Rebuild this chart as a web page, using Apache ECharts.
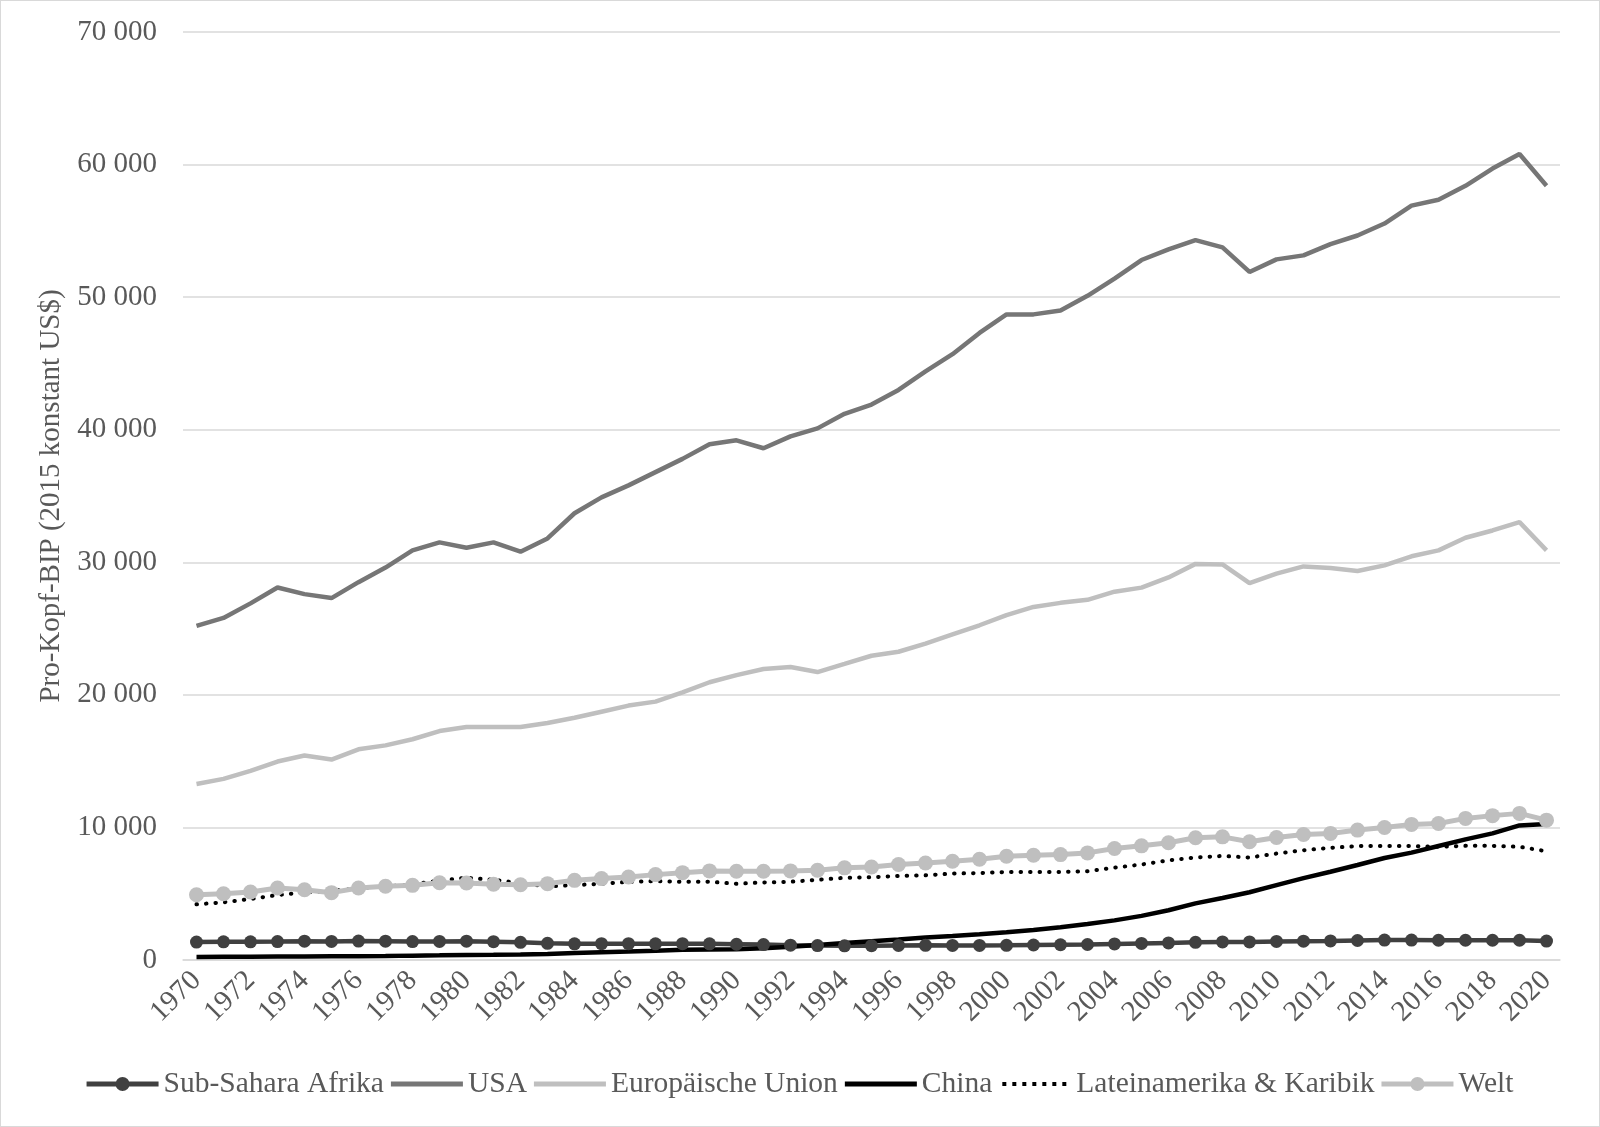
<!DOCTYPE html>
<html><head><meta charset="utf-8">
<script src="https://cdn.jsdelivr.net/npm/echarts@6/dist/echarts.min.js"></script>
<style>
html,body{margin:0;padding:0;background:#fff;}
#c{width:1598px;height:1125px;border:1px solid #d9d9d9;}
</style></head>
<body><div id="c"></div>
<script>
const years = [];
for (let y = 1970; y <= 2020; y++) years.push(String(y));

const ssa = [1350,1370,1370,1390,1420,1400,1430,1420,1390,1400,1420,1380,1330,1260,1220,1230,1230,1220,1230,1220,1190,1160,1120,1090,1070,1080,1100,1110,1100,1100,1110,1130,1150,1170,1210,1250,1290,1330,1360,1360,1400,1420,1440,1470,1500,1500,1490,1490,1490,1490,1430];
const usa = [25200,25800,26900,28100,27600,27300,28500,29600,30900,31500,31100,31500,30800,31800,33700,34900,35800,36800,37800,38900,39200,38600,39500,40100,41200,41900,43000,44400,45700,47300,48700,48700,49000,50100,51400,52800,53600,54300,53750,51900,52850,53150,54000,54650,55550,56900,57350,58400,59700,60800,58400];
const eu = [13280,13660,14270,14970,15430,15120,15890,16190,16650,17270,17570,17570,17570,17880,18270,18730,19190,19490,20180,20950,21490,21950,22100,21720,22330,22950,23250,23870,24560,25250,26020,26630,26940,27170,27780,28090,28860,29880,29840,28430,29140,29690,29570,29340,29770,30450,30900,31850,32400,33030,30900];
const china = [230,240,245,260,265,280,275,295,330,350,375,390,420,460,530,590,640,700,770,790,810,880,1000,1130,1280,1420,1550,1690,1810,1940,2100,2270,2470,2720,2990,3330,3750,4270,4680,5110,5650,6180,6660,7170,7690,8100,8600,9100,9550,10150,10250];
const latam = [4200,4350,4600,4900,5100,5200,5400,5550,5700,6000,6200,6050,5800,5550,5650,5750,5900,5950,5900,5900,5750,5850,5900,6050,6200,6240,6340,6390,6520,6560,6640,6640,6640,6690,6970,7200,7520,7730,7850,7730,8030,8280,8460,8590,8610,8590,8540,8610,8610,8540,8200];
const welt = [4920,5000,5130,5430,5300,5080,5430,5560,5630,5830,5810,5710,5680,5760,6010,6140,6260,6440,6590,6720,6690,6690,6720,6770,6950,7020,7200,7320,7450,7600,7830,7900,7950,8080,8410,8610,8840,9220,9290,8920,9240,9470,9550,9800,10000,10230,10300,10680,10890,11060,10550];

const yTicks = [0,10000,20000,30000,40000,50000,60000,70000];
const seriesNames = ['Sub-Sahara Afrika','USA','Europäische Union','China','Lateinamerika & Karibik','Welt'];

const FONT = '"Liberation Serif","Times New Roman",serif';
const TXT = '#595959';
const FS = 29;

function fmt(v){ return String(v).replace(/\B(?=(\d{3})+(?!\d))/g,' '); }

// legend icon paths (72 x 16 box)
const BOX = 'M0,0L72,0L72,0Z M0,16L72,16L72,16Z ';
const ICON_LINE = 'path://' + BOX + 'M0,5.5L72,5.5L72,10.5L0,10.5Z';
const ICON_MARK = 'path://' + BOX + 'M0,5.5L29.5,5.5L29.5,10.5L0,10.5Z M42.5,5.5L72,5.5L72,10.5L42.5,10.5Z M29,8A7,7 0 1,1 43,8A7,7 0 1,1 29,8Z';
let dots = '';
for (let x = 3; x < 72; x += 10) dots += 'M' + x + ',6L' + (x+4) + ',6L' + (x+4) + ',10L' + x + ',10Z ';
const ICON_DOT = 'path://' + BOX + dots;

const chart = echarts.init(document.getElementById('c'), null, {renderer:'canvas'});
chart.setOption({
  backgroundColor:'#fff',
  animation:false,
  grid:{left:182,right:39,top:31,bottom:166,containLabel:false},
  legend:{
    data:[
      {name:seriesNames[0],icon:ICON_MARK},
      {name:seriesNames[1],icon:ICON_LINE},
      {name:seriesNames[2],icon:ICON_LINE},
      {name:seriesNames[3],icon:ICON_LINE},
      {name:seriesNames[4],icon:ICON_DOT},
      {name:seriesNames[5],icon:ICON_MARK}
    ],
    bottom:22,
    left:'center',
    itemWidth:72,
    itemHeight:16,
    itemGap:7,
    itemStyle:{borderWidth:0},
    textStyle:{fontFamily:FONT,fontSize:29.5,color:TXT}
  },
  xAxis:{
    type:'category',
    data:years,
    boundaryGap:true,
    axisTick:{show:false},
    axisLine:{lineStyle:{color:'#d9d9d9',width:1.5}},
    axisLabel:{interval:1,rotate:45,fontFamily:FONT,fontSize:FS,color:TXT,margin:16}
  },
  yAxis:{
    type:'value',
    min:yTicks[0],max:yTicks[yTicks.length-1],interval:10000,
    name:'Pro-Kopf-BIP (2015 konstant US$)',
    nameLocation:'middle',
    nameGap:110,
    nameTextStyle:{fontFamily:FONT,fontSize:FS,color:TXT},
    axisLine:{show:false},
    axisTick:{show:false},
    splitLine:{lineStyle:{color:'#d9d9d9',width:1.5}},
    axisLabel:{fontFamily:FONT,fontSize:FS,color:TXT,margin:26,formatter:fmt}
  },
  series:[
    {name:seriesNames[0],type:'line',data:ssa,symbol:'circle',symbolSize:13,showSymbol:true,
     lineStyle:{color:'#404040',width:4.5},itemStyle:{color:'#404040'}},
    {name:seriesNames[1],type:'line',data:usa,symbol:'none',
     lineStyle:{color:'#767676',width:4.5},itemStyle:{color:'#767676'}},
    {name:seriesNames[2],type:'line',data:eu,symbol:'none',
     lineStyle:{color:'#bfbfbf',width:4.5},itemStyle:{color:'#bfbfbf'}},
    {name:seriesNames[3],type:'line',data:china,symbol:'none',
     lineStyle:{color:'#000000',width:4.5},itemStyle:{color:'#000000'}},
    {name:seriesNames[4],type:'line',data:latam,symbol:'none',
     lineStyle:{color:'#000000',width:4,type:[0.5,9],cap:'round'},itemStyle:{color:'#000000'}},
    {name:seriesNames[5],type:'line',data:welt,symbol:'circle',symbolSize:15,showSymbol:true,
     lineStyle:{color:'#bfbfbf',width:5},itemStyle:{color:'#bfbfbf'}}
  ]
});
</script></body></html>
